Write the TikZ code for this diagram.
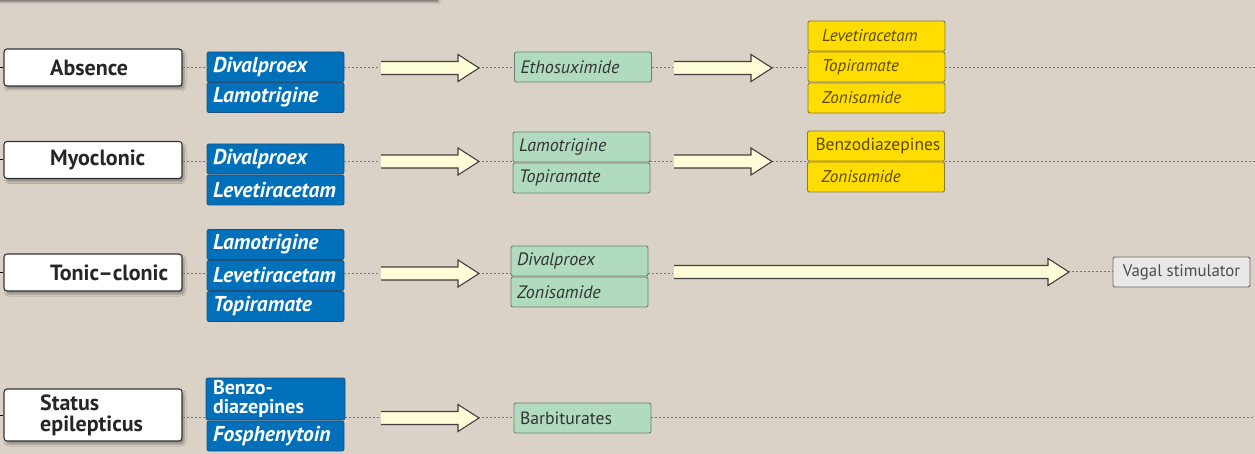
\documentclass[tikz,border=0pt]{standalone}
\usepackage{fontspec}
\setmainfont{PT Sans}
\usetikzlibrary{shadows.blur}
\definecolor{bg}{HTML}{DAD2C6}
\definecolor{bluebox}{HTML}{0070BA}
\definecolor{blueedge}{HTML}{1F4F7A}
\definecolor{greenbox}{HTML}{B0DBBE}
\definecolor{greenedge}{HTML}{6E7F72}
\definecolor{yellowbox}{HTML}{FFDD00}
\definecolor{yellowedge}{HTML}{8C7A3A}
\definecolor{yellowtext}{HTML}{5C4A00}
\definecolor{graybox}{HTML}{E8E8E8}
\definecolor{arrowfill}{HTML}{FFFCD8}
\definecolor{dotcol}{HTML}{7A7670}
\tikzset{
  cat/.style={draw=black!80, line width=1.1pt, rounded corners=3pt, fill=white,
    minimum width=178pt, minimum height=37pt, inner sep=0pt,
    blur shadow={shadow xshift=2pt, shadow yshift=-3pt, shadow opacity=35, shadow blur steps=6}},
  cattext/.style={anchor=west, font=\fontsize{22}{22}\selectfont\bfseries, text=black!85, inner sep=0pt},
  drug/.style={draw=blueedge, line width=0.8pt, rounded corners=2pt, fill=bluebox,
    text=white, font=\fontsize{21.5}{20}\selectfont\bfseries\itshape,
    minimum width=137pt, minimum height=30pt, text width=125pt, align=left,
    inner xsep=6pt, inner ysep=0pt},
  second/.style={draw=greenedge, line width=0.9pt, rounded corners=2pt, fill=greenbox,
    text=black!80, font=\fontsize{18}{18}\selectfont\itshape,
    minimum width=137pt, minimum height=30pt, text width=125pt, align=left,
    inner xsep=6pt, inner ysep=0pt},
  third/.style={draw=yellowedge, line width=0.9pt, rounded corners=2pt, fill=yellowbox,
    text=yellowtext, font=\fontsize{17}{18}\selectfont\itshape,
    minimum width=137pt, minimum height=30pt, text width=109pt, align=left,
    inner xsep=14pt, inner ysep=0pt},
  fourth/.style={draw=black!60, line width=0.9pt, rounded corners=2pt, fill=graybox,
    text=black!70, font=\fontsize{16.8}{18}\selectfont,
    minimum width=137pt, minimum height=30pt, inner sep=0pt},
  dotline/.style={dotcol, line width=1pt, dash pattern=on 2pt off 2pt},
  stub/.style={black, line width=1pt},
  barrow/.style={draw=black!75, line width=1.1pt, fill=arrowfill, line join=miter},
}
\newcommand{\blockarrow}[3]{% x start, x tip, y
  \fill[arrowfill] (#1,#3-6.5) -- (#2-21,#3-6.5) -- (#2-21,#3-13.5) -- (#2,#3)
     -- (#2-21,#3+13.5) -- (#2-21,#3+6.5) -- (#1,#3+6.5) -- cycle;
  \draw[barrow, fill=none] (#1,#3-6.5) -- (#2-21,#3-6.5) -- (#2-21,#3-13.5) -- (#2,#3)
     -- (#2-21,#3+13.5) -- (#2-21,#3+6.5) -- (#1,#3+6.5);
}
\begin{document}
\begin{tikzpicture}[x=1pt,y=-1pt]
\fill[bg] (0,0) rectangle (1255,454);
\useasboundingbox (0,0) rectangle (1255,454);
% top box (mostly outside the picture)
\begin{scope}
\clip (0,0) rectangle (1255,454);
\node[draw=none, fill=bg, minimum width=460pt, minimum height=60pt,
  blur shadow={shadow xshift=0pt, shadow yshift=-3pt, shadow opacity=45, shadow blur steps=8}] (topbox) at (208,-31) {};
\end{scope}

% ---------- Row 1: Absence ----------
\node[cat] (c1) at (93,67.5) {};
\node[cattext] at (50,67.5) {Absence};
\node[drug] (a1) at (275.5,67) {Divalproex};
\node[drug] (a2) at (275.5,97.5) {Lamotrigine};
\node[second] (b1) at (583,67) {Ethosuximide};
\node[third] (y1) at (876.5,36) {Levetiracetam};
\node[third] (y2) at (876.5,67) {Topiramate};
\node[third] (y3) at (876.5,98) {Zonisamide};
\coordinate (e1) at (1255,68);
\coordinate (s1) at (0,67.5);

% ---------- Row 2: Myoclonic ----------
\node[cat] (c2) at (93,160) {};
\node[cattext] at (50,160) {Myoclonic};
\node[drug] (a3) at (275.5,159) {Divalproex};
\node[drug] (a4) at (275.5,190) {Levetiracetam};
\node[second] (b2) at (581.5,147) {Lamotrigine};
\node[second] (b3) at (581.5,178) {Topiramate};
\node[third, font=\fontsize{17.5}{18}\selectfont, inner xsep=8pt, text width=121pt] (y4) at (876,146) {Benzodiazepines};
\node[third] (y5) at (876,177) {Zonisamide};
\coordinate (e2) at (1255,161.5);
\coordinate (s2) at (0,160);

% ---------- Row 3: Tonic-clonic ----------
\node[cat] (c3) at (93,272.5) {};
\node[cattext] at (50,272.5) {Tonic--clonic};
\node[drug] (a5) at (275.5,244.5) {Lamotrigine};
\node[drug] (a6) at (275.5,275.5) {Levetiracetam};
\node[drug] (a7) at (275.5,306.5) {Topiramate};
\node[second] (b4) at (579.5,261) {Divalproex};
\node[second] (b5) at (579.5,292) {Zonisamide};
\node[fourth] (g1) at (1181.5,272) {Vagal stimulator};
\coordinate (s3) at (0,272.5);

% ---------- Row 4: Status epilepticus ----------
\node[cat, minimum height=52pt] (c4) at (93,415) {};
\node[cattext, align=left, font=\fontsize{22}{21}\selectfont\bfseries] at (40,415) {Status\\epilepticus};
\node[drug, minimum height=42pt, font=\fontsize{20}{18.5}\selectfont\bfseries, inner xsep=7pt] (a8) at (275.5,399) {Benzo-\\diazepines};
\node[drug] (a9) at (275.5,436) {Fosphenytoin};
\node[second, font=\fontsize{17.7}{18}\selectfont] (b6) at (582.5,418) {Barbiturates};
\coordinate (e4) at (1255,417);
\coordinate (s4) at (0,415);

% ---------- dotted connectors ----------
\draw[dotline] (c1.east |- 0,68) -- (a1.west |- 0,68);
\draw[dotline] (a1.east |- 0,68) -- (380,68);
\draw[dotline] (478,68) -- (b1.west |- 0,68);
\draw[dotline] (b1.east |- 0,68) -- (673,68);
\draw[dotline] (772,68) -- (y2.west |- 0,68);
\draw[dotline] (y2.east |- 0,68) -- (e1);

\draw[dotline] (c2.east |- 0,161.5) -- (a3.west |- 0,161.5);
\draw[dotline] (a3.east |- 0,161.5) -- (380,161.5);
\draw[dotline] (478,161.5) -- (b2.west |- 0,161.5);
\draw[dotline] (b2.east |- 0,161.5) -- (673,161.5);
\draw[dotline] (772,161.5) -- (y4.west |- 0,161.5);
\draw[dotline] (y4.east |- 0,161.5) -- (e2);

\draw[dotline] (c3.east |- 0,274) -- (a6.west |- 0,274);
\draw[dotline] (a6.east |- 0,274) -- (380,274);
\draw[dotline] (478,274) -- (b4.west |- 0,274);
\draw[dotline] (b4.east |- 0,274) -- (673,274);
\draw[dotline] (1068,272) -- (g1.west);

\draw[dotline] (c4.east |- 0,417) -- (a8.west |- 0,417);
\draw[dotline] (a8.east |- 0,417) -- (380,417);
\draw[dotline] (478,417) -- (b6.west |- 0,417);
\draw[dotline] (b6.east |- 0,417) -- (e4);

% left stubs
\draw[stub] (s1) -- (c1.west);
\draw[stub] (s2) -- (c2.west);
\draw[stub] (s3) -- (c3.west);
\draw[stub] (s4) -- (c4.west);

% ---------- block arrows ----------
\blockarrow{381}{479}{68}
\blockarrow{674}{772}{68}
\blockarrow{381}{479}{161.5}
\blockarrow{674}{772}{161.5}
\blockarrow{381}{479}{273.5}
\blockarrow{674}{1069}{272}
\blockarrow{381}{479}{418}
\end{tikzpicture}
\end{document}
